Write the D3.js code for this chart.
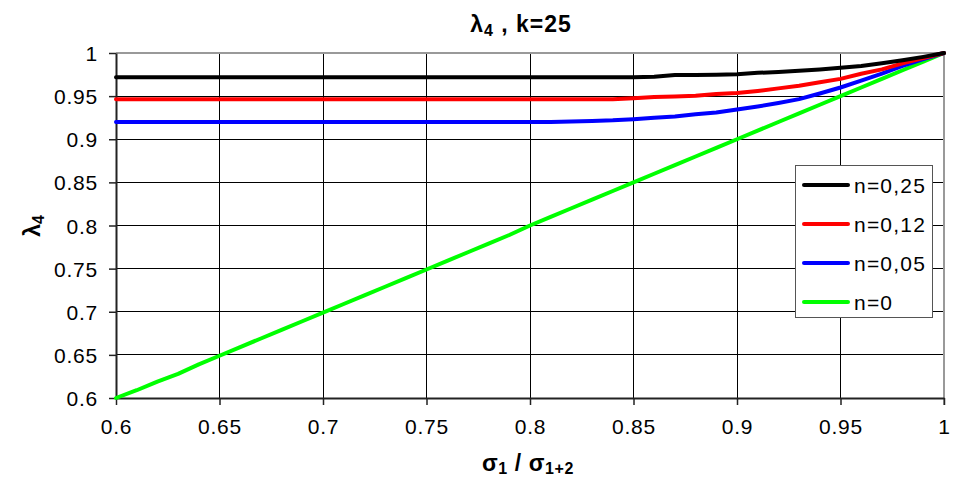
<!DOCTYPE html>
<html><head><meta charset="utf-8">
<script src="https://cdn.jsdelivr.net/npm/d3@7"></script>
<style>body{margin:0;background:#fff;} text{font-family:"Liberation Sans",Arial,sans-serif;}</style>
</head><body><svg id="c" width="961" height="480"></svg>
<script>
const xValues = [0.60,0.61,0.62,0.63,0.64,0.65,0.66,0.67,0.68,0.69,0.70,0.71,0.72,0.73,0.74,0.75,0.76,0.77,0.78,0.79,0.80,0.81,0.82,0.83,0.84,0.85,0.86,0.87,0.88,0.89,0.90,0.91,0.92,0.93,0.94,0.95,0.96,0.97,0.98,0.99,1.00];
const n025 = [0.972,0.972,0.972,0.972,0.972,0.972,0.972,0.972,0.972,0.972,0.972,0.972,0.972,0.972,0.972,0.972,0.972,0.972,0.972,0.972,0.972,0.972,0.972,0.972,0.972,0.972,0.9725,0.9745,0.9745,0.9748,0.9755,0.977,0.978,0.9795,0.981,0.983,0.985,0.988,0.9915,0.9955,1.0];
const n012 = [0.9465,0.9465,0.9465,0.9465,0.9465,0.9465,0.9465,0.9465,0.9465,0.9465,0.9465,0.9465,0.9465,0.9465,0.9465,0.9465,0.9465,0.9465,0.9465,0.9465,0.9465,0.9465,0.9465,0.9465,0.9465,0.9475,0.949,0.9495,0.9505,0.9525,0.9535,0.956,0.959,0.962,0.966,0.970,0.976,0.981,0.988,0.994,1.0];
const n005 = [0.92,0.92,0.92,0.92,0.92,0.92,0.92,0.92,0.92,0.92,0.92,0.92,0.92,0.92,0.92,0.92,0.92,0.92,0.92,0.92,0.92,0.92,0.9205,0.9213,0.922,0.9233,0.925,0.9265,0.929,0.931,0.9345,0.938,0.942,0.9465,0.953,0.960,0.968,0.976,0.985,0.993,1.0];
const n0 = [0.600,0.609,0.619,0.628,0.639,0.649,0.659,0.669,0.679,0.689,0.699,0.709,0.719,0.729,0.739,0.749,0.759,0.769,0.779,0.789,0.800,0.810,0.820,0.830,0.840,0.850,0.860,0.870,0.880,0.890,0.900,0.910,0.920,0.930,0.940,0.950,0.960,0.970,0.980,0.990,1.000];
const seriesNames = ["n=0,25","n=0,12","n=0,05","n=0"];
const seriesColors = ["#000000","#ff0000","#0000ff","#00ff00"];
const xTicks = [0.6,0.65,0.7,0.75,0.8,0.85,0.9,0.95,1];
const yTicks = [0.6,0.65,0.7,0.75,0.8,0.85,0.9,0.95,1];

const svg = d3.select("#c");
const m = {l:116, r:17, t:53, b:82};
const W = 961, H = 480;
const x = d3.scaleLinear().domain([0.6,1]).range([m.l, W-m.r]);
const y = d3.scaleLinear().domain([0.6,1]).range([H-m.b, m.t]);

// grid
const g = svg.append("g");
g.selectAll(".vg").data(xTicks.slice(1,-1)).join("line")
  .attr("x1",d=>x(d)).attr("x2",d=>x(d)).attr("y1",y(1)).attr("y2",y(0.6))
  .attr("stroke","#000").attr("stroke-width",1).attr("shape-rendering","crispEdges");
g.selectAll(".hg").data(yTicks.slice(1,-1)).join("line")
  .attr("y1",d=>y(d)).attr("y2",d=>y(d)).attr("x1",x(0.6)).attr("x2",x(1))
  .attr("stroke","#000").attr("stroke-width",1).attr("shape-rendering","crispEdges");
// top & right border gray
svg.append("line").attr("x1",x(0.6)).attr("x2",x(1)).attr("y1",y(1)).attr("y2",y(1))
  .attr("stroke","#999").attr("stroke-width",2).attr("shape-rendering","crispEdges");
svg.append("line").attr("x1",x(1)).attr("x2",x(1)).attr("y1",y(1)).attr("y2",y(0.6)+7)
  .attr("stroke","#999").attr("stroke-width",2).attr("shape-rendering","crispEdges");

// axes
const fmt = d => String(+d.toFixed(2));
const xa = svg.append("g").attr("transform",`translate(0,${y(0.6)})`)
  .call(d3.axisBottom(x).tickValues(xTicks).tickFormat(fmt).tickSizeOuter(0).tickSizeInner(7).tickPadding(14));
const ya = svg.append("g").attr("transform",`translate(${x(0.6)},0)`)
  .call(d3.axisLeft(y).tickValues(yTicks).tickFormat(fmt).tickSizeOuter(0).tickSizeInner(7).tickPadding(11));
[xa,ya].forEach(a=>{
  a.select(".domain").attr("stroke","#222").attr("stroke-width",2);
  a.selectAll(".tick line").attr("stroke","#222").attr("stroke-width",1.5);
  a.selectAll("text").attr("font-size",21).attr("letter-spacing","0.8px").attr("fill","#000")
    .attr("font-family","Liberation Sans, Arial, sans-serif");
});
ya.selectAll("text").attr("dy","0.36em");

// lines
const allSeries = [n025,n012,n005,n0];
const line = d3.line().x((d,i)=>x(xValues[i])).y(d=>y(d));
const order = [3,2,1,0];
order.forEach(k=>{
  svg.append("path").datum(allSeries[k]).attr("d",line)
    .attr("fill","none").attr("stroke",seriesColors[k]).attr("stroke-width",4)
    .attr("stroke-linejoin","round").attr("stroke-linecap","round");
});

// legend
const lg = svg.append("g");
lg.append("rect").attr("x",795.5).attr("y",165.5).attr("width",137).attr("height",152)
  .attr("fill","#fff").attr("stroke","#555").attr("stroke-width",1);
seriesNames.forEach((nm,i)=>{
  const yy = 185 + i*39;
  lg.append("line").attr("x1",804).attr("x2",848).attr("y1",yy).attr("y2",yy)
    .attr("stroke",seriesColors[i]).attr("stroke-width",4).attr("stroke-linecap","round");
  lg.append("text").attr("x",854).attr("y",yy).attr("dy","0.36em").attr("font-size",21)
    .attr("letter-spacing","1.2px").text(nm);
});

// title
const t = svg.append("text").attr("x",521).attr("y",32).attr("text-anchor","middle")
  .attr("font-size",23).attr("font-weight","bold").attr("letter-spacing","1px");
t.append("tspan").text("λ");
t.append("tspan").attr("font-size",16).attr("dy",4).text("4");
t.append("tspan").attr("dy",-4).text(" , k=25");

// x title
const xt = svg.append("text").attr("x",528).attr("y",471).attr("text-anchor","middle")
  .attr("font-size",23).attr("font-weight","bold").attr("letter-spacing","0.6px");
xt.append("tspan").text("σ");
xt.append("tspan").attr("font-size",16).attr("dy",3).text("1");
xt.append("tspan").attr("dy",-3).text(" / σ");
xt.append("tspan").attr("font-size",16).attr("dy",3).text("1+2");

// y title
const yt = svg.append("text").attr("transform","translate(40,226) rotate(-90)").attr("text-anchor","middle")
  .attr("font-size",23).attr("font-weight","bold");
yt.append("tspan").text("λ");
yt.append("tspan").attr("font-size",16).attr("dy",4).text("4");
</script></body></html>
